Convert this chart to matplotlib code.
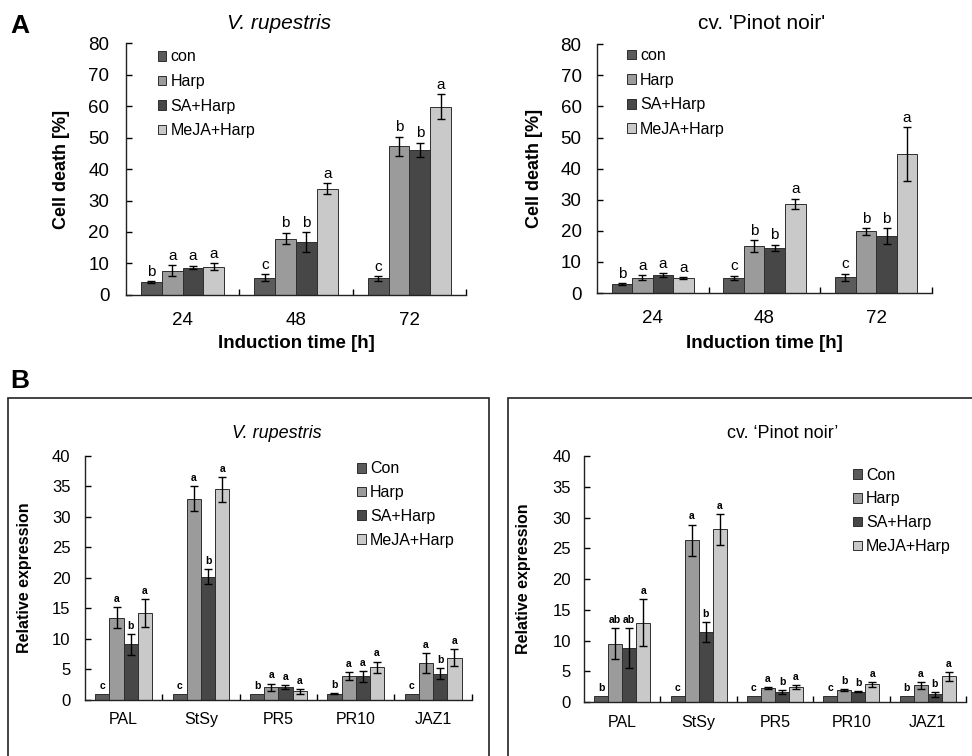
import matplotlib
matplotlib.use("Agg")
import matplotlib.pyplot as plt
import matplotlib.patches as mpatches
import numpy as np

plt.rcParams['font.family'] = ['Liberation Sans', 'DejaVu Sans']

# ---- data ----
treat_a = ["con", "Harp", "SA+Harp", "MeJA+Harp"]
treat_b = ["Con", "Harp", "SA+Harp", "MeJA+Harp"]
bar_colors = ["#5b5b5b", "#9b9b9b", "#474747", "#c9c9c9"]

times = ["24", "48", "72"]

# cell death, V. rupestris
rup_death = [[4.0, 5.5, 5.3],
             [7.7, 17.9, 47.2],
             [8.7, 16.7, 46.0],
             [9.0, 33.8, 59.8]]
rup_death_err = [[0.3, 1.1, 0.7],
                 [1.8, 1.8, 3.0],
                 [0.6, 3.2, 2.3],
                 [1.1, 1.6, 4.0]]
rup_death_let = [["b", "c", "c"],
                 ["a", "b", "b"],
                 ["a", "b", "b"],
                 ["a", "a", "a"]]

# cell death, Pinot noir
pn_death = [[2.9, 4.9, 5.1],
            [4.9, 15.0, 19.8],
            [5.8, 14.5, 18.3],
            [4.8, 28.7, 44.6]]
pn_death_err = [[0.3, 0.6, 1.1],
                [0.8, 1.9, 1.1],
                [0.6, 1.1, 2.6],
                [0.3, 1.6, 8.7]]
pn_death_let = [["b", "c", "c"],
                ["a", "b", "b"],
                ["a", "b", "b"],
                ["a", "a", "a"]]

genes = ["PAL", "StSy", "PR5", "PR10", "JAZ1"]

# relative expression, V. rupestris
rup_expr = [[1.0, 1.0, 1.0, 1.0, 1.0],
            [13.5, 33.0, 2.1, 3.9, 6.1],
            [9.1, 20.2, 2.1, 3.9, 4.3],
            [14.3, 34.5, 1.4, 5.4, 6.9]]
rup_expr_err = [[0.0, 0.0, 0.0, 0.1, 0.0],
                [1.7, 2.0, 0.6, 0.7, 1.6],
                [1.7, 1.2, 0.3, 0.9, 0.9],
                [2.3, 2.1, 0.4, 0.9, 1.4]]
rup_expr_let = [["c", "c", "b", "b", "c"],
                ["a", "a", "a", "a", "a"],
                ["b", "b", "a", "a", "b"],
                ["a", "a", "a", "a", "a"]]

# relative expression, Pinot noir
pn_expr = [[1.0, 1.0, 1.0, 1.0, 1.0],
           [9.5, 26.3, 2.3, 1.9, 2.7],
           [8.8, 11.4, 1.6, 1.7, 1.25],
           [12.9, 28.1, 2.4, 2.9, 4.2]]
pn_expr_err = [[0.0, 0.0, 0.0, 0.0, 0.0],
               [2.5, 2.6, 0.2, 0.15, 0.6],
               [3.2, 1.6, 0.3, 0.1, 0.4],
               [3.8, 2.5, 0.3, 0.4, 0.7]]
pn_expr_let = [["b", "c", "c", "c", "b"],
               ["ab", "a", "a", "b", "a"],
               ["ab", "b", "b", "b", "b"],
               ["a", "a", "a", "a", "a"]]


def draw_panel(ax, cats, vals, errs, lets, labels, ymax, ystep,
               xtick_fs, ytick_fs, xpad, ypad, let_fs, let_weight, let_off):
       x = np.arange(len(cats))
       w = 0.1835
       for i in range(4):
              xs = x + (i - 1.5) * w
              ax.bar(xs, vals[i], w, color=bar_colors[i], edgecolor="#2e2e2e",
                     linewidth=0.7, label=labels[i], zorder=2)
              e = np.array(errs[i])
              show = e > 0
              if show.any():
                     ax.errorbar(xs[show], np.array(vals[i])[show], yerr=e[show],
                                 fmt="none", ecolor="black", elinewidth=1.0,
                                 capsize=3, capthick=1.0, zorder=3)
              for j in range(len(cats)):
                     top = vals[i][j] + errs[i][j]
                     ax.text(xs[j], top + let_off, lets[i][j], ha="center",
                             va="bottom", fontsize=let_fs, fontweight=let_weight)
       ax.set_xlim(-0.5, len(cats) - 0.5)
       ax.set_ylim(0, ymax)
       ax.set_yticks(np.arange(0, ymax + 0.1, ystep))
       ax.set_xticks(x)
       ax.set_xticklabels(cats)
       ax.set_xticks(np.arange(0.5, len(cats), 1.0), minor=True)
       ax.tick_params(axis="x", which="major", length=0, pad=xpad, labelsize=xtick_fs)
       ax.tick_params(axis="x", which="minor", direction="in", length=4, width=1)
       ax.tick_params(axis="y", direction="in", length=4, width=1, pad=ypad,
                      labelsize=ytick_fs)
       for s in ["top", "right"]:
              ax.spines[s].set_visible(False)
       for s in ["left", "bottom"]:
              ax.spines[s].set_linewidth(1.0)
              ax.spines[s].set_color("#222222")


def add_legend(ax, bx, by, spacing):
       ax.legend(loc="upper left", bbox_to_anchor=(bx, by), frameon=False,
                 fontsize=11.5, handlelength=0.55, handleheight=0.55,
                 handletextpad=0.25, labelspacing=spacing, borderaxespad=0)


fig = plt.figure(figsize=(9.72, 7.56), dpi=100)

# ---- panel A ----
axA1 = fig.add_axes([0.1296, 0.6098, 0.35, 0.3333])
draw_panel(axA1, times, rup_death, rup_death_err, rup_death_let, treat_a,
           80, 10, 13.5, 13.5, 12, 12, 11, "normal", 0.8)
axA1.set_ylabel("Cell death [%]", fontsize=13, fontweight="bold")
axA1.yaxis.set_label_coords(-0.165, 0.5)
axA1.set_xlabel("Induction time [h]", fontsize=13.5, fontweight="bold")
axA1.xaxis.set_label_coords(0.5, -0.159)
axA1.text(0.45, 1.079, "V. rupestris", transform=axA1.transAxes, ha="center",
          va="center", fontsize=15, style="italic")
add_legend(axA1, 0.074, 1.0, 0.6)

axA2 = fig.add_axes([0.614, 0.6124, 0.345, 0.329])
draw_panel(axA2, times, pn_death, pn_death_err, pn_death_let, treat_a,
           80, 10, 13.5, 13.5, 12, 11, 11, "normal", 0.8)
axA2.set_ylabel("Cell death [%]", fontsize=13, fontweight="bold")
axA2.yaxis.set_label_coords(-0.161, 0.5)
axA2.set_xlabel("Induction time [h]", fontsize=13.5, fontweight="bold")
axA2.xaxis.set_label_coords(0.5, -0.169)
axA2.text(0.49, 1.084, "cv. 'Pinot noir'", transform=axA2.transAxes, ha="center",
          va="center", fontsize=15)
add_legend(axA2, 0.072, 1.01, 0.6)

# ---- panel B ----
axB1 = fig.add_axes([0.0874, 0.0741, 0.398, 0.3228])
draw_panel(axB1, genes, rup_expr, rup_expr_err, rup_expr_let, treat_b,
           40, 5, 11.5, 12, 9, 10.5, 7.5, "bold", 0.5)
axB1.set_ylabel("Relative expression", fontsize=11.5, fontweight="bold")
axB1.yaxis.set_label_coords(-0.137, 0.5)
axB1.text(0.496, 1.094, "V. rupestris", transform=axB1.transAxes, ha="center",
          va="center", fontsize=13, style="italic")
add_legend(axB1, 0.687, 1.004, 0.55)

axB2 = fig.add_axes([0.6008, 0.0714, 0.393, 0.325])
draw_panel(axB2, genes, pn_expr, pn_expr_err, pn_expr_let, treat_b,
           40, 5, 11.5, 12, 9, 9.5, 7.5, "bold", 0.5)
axB2.set_ylabel("Relative expression", fontsize=11.5, fontweight="bold")
axB2.yaxis.set_label_coords(-0.139, 0.5)
axB2.text(0.52, 1.094, "cv. \u2018Pinot noir\u2019", transform=axB2.transAxes,
          ha="center", va="center", fontsize=13)
add_legend(axB2, 0.688, 0.98, 0.55)

# frames around panel B plots
for x0, x1 in [(8, 489), (508, 975)]:
       fig.patches.append(mpatches.Rectangle(
              (x0 / 972, -0.02), (x1 - x0) / 972, 1 - 398 / 756 + 0.02,
              transform=fig.transFigure, fill=False, edgecolor="#222222",
              linewidth=1.2))

fig.text(10 / 972, 1 - 26 / 756, "A", fontsize=19, fontweight="bold", va="center")
fig.text(10 / 972, 1 - 381 / 756, "B", fontsize=19, fontweight="bold", va="center")

fig.savefig("out.png", dpi=100)
